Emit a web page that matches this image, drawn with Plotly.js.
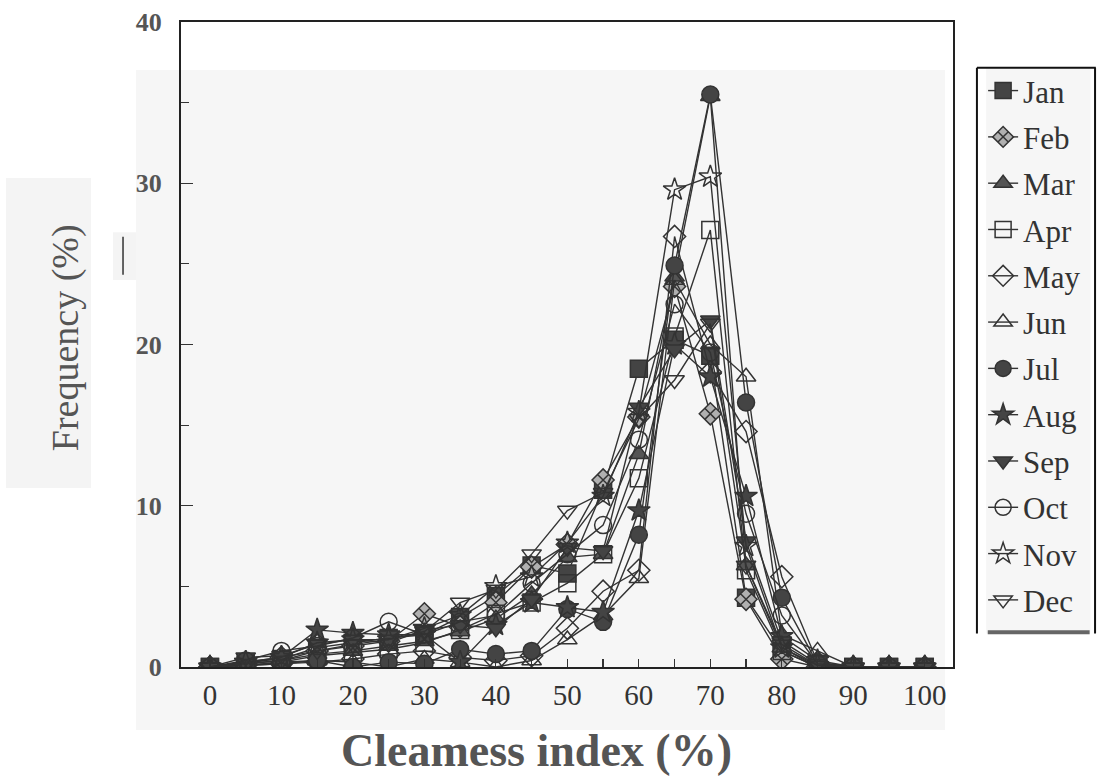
<!DOCTYPE html>
<html>
<head>
<meta charset="utf-8">
<script src="https://cdn.plot.ly/plotly-3.0.1.min.js"></script>
<style>
html,body{margin:0;padding:0;background:#fff;}
#chart{width:1100px;height:779px;}
</style>
</head>
<body>
<div id="chart"></div>
<script>
// Clearness index bins (%)
const clearness = [0,5,10,15,20,25,30,35,40,45,50,55,60,65,70,75,80,85,90,95,100];
const xTickVals = [0,10,20,30,40,50,60,70,80,90,100];
const yTickVals = [0,10,20,30,40];
const months = ["Jan","Feb","Mar","Apr","May","Jun","Jul","Aug","Sep","Oct","Nov","Dec"];

// Frequency (%) per month
const jan = [0,0.3,0.5,1.2,1.5,1.8,2.0,3.1,4.4,6.3,5.8,11.0,18.5,20.3,19.3,4.3,1.0,0,0,0,0];
const feb = [0,0.2,0.6,1.0,1.3,1.6,3.3,2.5,4.0,6.2,7.6,11.6,15.5,23.6,15.7,4.2,0.5,0,0,0,0];
const mar = [0,0.2,0.4,0.8,1.0,1.3,1.6,2.2,3.0,4.5,6.8,7.0,13.2,24.2,35.4,6.3,1.2,0,0,0,0];
const apr = [0,0.1,0.3,0.7,0.9,1.1,1.5,2.3,3.3,4.0,5.2,7.0,11.7,20.5,27.1,6.0,1.0,0,0,0,0];
const may = [0,0.1,0.2,0.3,0.5,0.8,1.0,0.6,0.4,0.7,2.4,4.7,6.0,26.7,18.3,14.6,5.6,0.3,0,0,0];
const jun = [0,0.1,0.2,0.4,0.3,0,0.5,0.3,0.0,0.4,1.7,3.2,5.5,24.0,20.0,18.0,2.0,1.0,0,0,0];
const jul = [0,0.1,0.3,0.4,0,0.3,0.2,1.1,0.8,1.0,3.6,2.8,8.2,24.9,35.5,16.4,4.3,0.2,0,0,0];
const aug = [0,0.3,0.6,2.3,2.1,2.0,2.0,0.3,2.6,4.0,3.7,3.4,9.7,20.0,18.0,10.6,1.9,0.4,0,0,0];
const sep = [0,0.6,0.7,1.4,1.7,1.5,2.3,2.6,2.4,4.2,7.4,7.2,16.1,19.7,21.5,7.8,1.6,0.2,0,0,0];
const oct = [0,0.4,1.0,1.3,1.8,2.8,2.0,2.8,3.2,5.2,7.0,8.8,14.1,22.5,19.5,9.5,3.2,0.2,0,0,0];
const nov = [0,0.3,0.6,1.5,1.7,1.7,2.4,3.2,5.0,5.6,7.7,10.6,15.8,29.6,30.4,7.5,1.2,0.1,0,0,0];
const dec = [0,0.2,0.4,1.0,1.4,1.7,2.2,4.0,4.8,7.0,9.7,10.8,15.4,17.8,21.3,6.3,1.4,0.1,0,0,0];

const series = [jan,feb,mar,apr,may,jun,jul,aug,sep,oct,nov,dec];
const symbols = ["square","diamond-x","triangle-up","square-open","diamond-open","triangle-up-open",
                 "circle","star","triangle-down","circle-open","star-open","triangle-down-open"];
const fills = ["#444","#b0b0b0","#555","#333","#333","#333","#444","#444","#444","#333","#333","#333"];

const traces = series.map((vals, i) => ({
  type: "scatter",
  mode: "lines+markers",
  name: months[i],
  legendgroup: months[i],
  x: clearness,
  y: vals,
  line: {color: "#333", width: 1.4},
  marker: {
    symbol: symbols[i],
    size: 17,
    color: fills[i],
    line: {color: "#333", width: 1.5}
  }
}));

const serif = "Liberation Serif";

const layout = {
  width: 1100,
  height: 779,
  margin: {l: 181, r: 147, t: 22, b: 112},
  paper_bgcolor: "#ffffff",
  plot_bgcolor: "rgba(0,0,0,0)",
  font: {family: serif},
  showlegend: true,
  legend: {
    x: 1.039, xanchor: "left",
    y: 0.935, yanchor: "top",
    bgcolor: "rgba(0,0,0,0)",
    borderwidth: 0,
    font: {family: serif, size: 31, color: "#333"},
    tracegroupgap: 3,
    itemwidth: 30
  },
  xaxis: {
    range: [-4.05, 103.95],
    tickmode: "array",
    tickvals: xTickVals,
    ticktext: xTickVals.map(String),
    ticks: "inside",
    ticklen: 8,
    tickwidth: 1.2,
    tickcolor: "#333",
    minor: {dtick: 5, ticks: "inside", ticklen: 8, tickcolor: "#333", tickwidth: 1.2},
    showline: true,
    linecolor: "#222",
    linewidth: 2,
    mirror: true,
    showgrid: false,
    zeroline: false,
    ticklabelstandoff: 1,
    tickfont: {family: serif, size: 29, color: "#333"}
  },
  yaxis: {
    range: [0, 40],
    tickmode: "array",
    tickvals: yTickVals,
    ticktext: yTickVals.map(String),
    ticks: "inside",
    ticklen: 12,
    tickwidth: 1.2,
    tickcolor: "#333",
    minor: {dtick: 5, ticks: "inside", ticklen: 8, tickcolor: "#333", tickwidth: 1.2},
    showline: true,
    linecolor: "#222",
    linewidth: 2,
    mirror: true,
    showgrid: false,
    zeroline: false,
    ticklabelstandoff: 12,
    tickfont: {family: serif, size: 26, color: "#555", weight: "bold"}
  },
  shapes: [
    // light gray scan background behind plotting region
    {type: "rect", xref: "paper", yref: "paper", x0: -0.0583, x1: 0.9896, y0: -0.0977, y1: 0.9256,
     fillcolor: "#f6f6f6", line: {width: 0}, layer: "below"},
    // gray box behind y title
    {type: "rect", xref: "paper", yref: "paper", x0: -0.2267, x1: -0.1166, y0: 0.2775, y1: 0.758,
     fillcolor: "#f4f4f4", line: {width: 0}, layer: "below"},
    {type: "rect", xref: "paper", yref: "paper", x0: -0.088, x1: -0.0583, y0: 0.600, y1: 0.674,
     fillcolor: "#f4f4f4", line: {width: 0}, layer: "below"},
    {type: "line", xref: "paper", yref: "paper", x0: -0.0751, x1: -0.0751, y0: 0.608, y1: 0.667,
     line: {color: "#333", width: 1.5}},
    // legend frame
    {type: "rect", xref: "paper", yref: "paper", x0: 1.043, x1: 1.178, y0: 0.052, y1: 0.929,
     fillcolor: "#f6f6f6", line: {width: 0}, layer: "below"},
    {type: "line", xref: "paper", yref: "paper", x0: 1.031, x1: 1.031, y0: 0.052, y1: 0.929,
     line: {color: "#111", width: 2}},
    {type: "line", xref: "paper", yref: "paper", x0: 1.031, x1: 1.185, y0: 0.929, y1: 0.929,
     line: {color: "#111", width: 2}},
    {type: "line", xref: "paper", yref: "paper", x0: 1.184, x1: 1.184, y0: 0.052, y1: 0.929,
     line: {color: "#111", width: 2}},
    {type: "line", xref: "paper", yref: "paper", x0: 1.045, x1: 1.177, y0: 0.054, y1: 0.054,
     line: {color: "#666", width: 4}}
  ],
  annotations: [
    {text: "Cleamess index (%)", xref: "paper", yref: "paper", x: 0.460, y: -0.129,
     xanchor: "center", yanchor: "middle", showarrow: false,
     font: {family: serif, size: 46, color: "#555", weight: "bold"}},
    {text: "Frequency (%)", xref: "paper", yref: "paper", x: -0.150, y: 0.51,
     xanchor: "center", yanchor: "middle", showarrow: false, textangle: -90,
     font: {family: serif, size: 38, color: "#555"}}
  ]
};

Plotly.newPlot("chart", traces, layout, {displayModeBar: false, staticPlot: true});
</script>
</body>
</html>
